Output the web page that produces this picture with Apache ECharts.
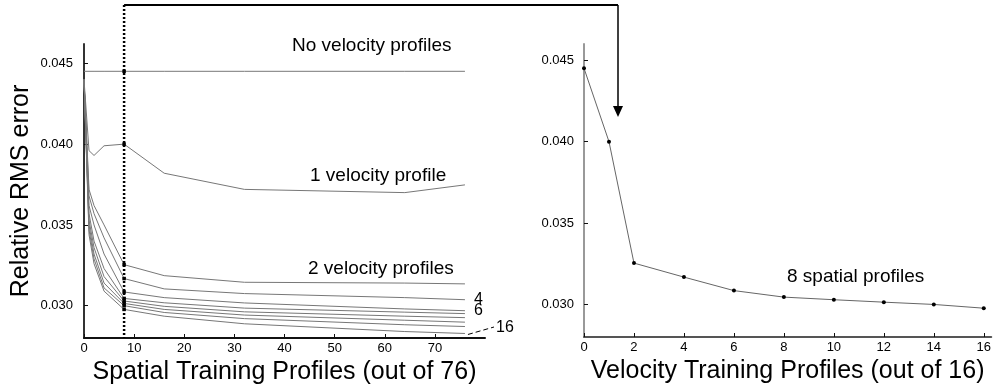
<!DOCTYPE html>
<html><head><meta charset="utf-8">
<script src="https://cdn.jsdelivr.net/npm/echarts@6/dist/echarts.min.js"></script>
<style>html,body{margin:0;padding:0;background:#fff}#c{width:994px;height:390px}</style>
</head><body><div id="c"></div><script>
// Left chart: x positions (spatial training profiles)
const spatialX = [0, 1, 2, 4, 8, 16, 32, 64, 76];
const vel0  = [0.04451, 0.04451, 0.04451, 0.04451, 0.04451, 0.04451, 0.04451, 0.04451, 0.04451];
const vel1  = [0.0440, 0.0396, 0.0393, 0.0399, 0.0400, 0.0382, 0.0372, 0.0370, 0.03748];
const vel2  = [0.0440, 0.0372, 0.0362, 0.0350, 0.03254, 0.03186, 0.03145, 0.0314, 0.03135];
const vel4  = [0.0440, 0.0368, 0.0357, 0.0342, 0.03168, 0.03104, 0.03075, 0.0305, 0.03037];
const vel6  = [0.0440, 0.0362, 0.0350, 0.0332, 0.03085, 0.0305, 0.03017, 0.0298, 0.02969];
const vel8  = [0.0440, 0.0357, 0.0340, 0.0323, 0.03045, 0.03018, 0.02985, 0.0296, 0.02951];
const vel10 = [0.0440, 0.0353, 0.0336, 0.0318, 0.03029, 0.02996, 0.02962, 0.02935, 0.02926];
const vel12 = [0.0440, 0.0350, 0.0332, 0.0314, 0.03014, 0.02977, 0.02942, 0.0291, 0.02898];
const vel14 = [0.0440, 0.0347, 0.0329, 0.0311, 0.0300, 0.02958, 0.0292, 0.02882, 0.02871];
const vel16 = [0.0440, 0.0344, 0.0326, 0.0309, 0.02977, 0.02935, 0.02888, 0.0284, 0.02828];
// Right chart
const velX   = [0, 1, 2, 4, 6, 8, 10, 12, 14, 16];
const velErr = [0.04451, 0.0400, 0.03254, 0.03168, 0.03085, 0.03045, 0.03029, 0.03014, 0.0300, 0.02977];
// Tick labels
const leftXTicks  = [0, 10, 20, 30, 40, 50, 60, 70];
const rightXTicks = [0, 2, 4, 6, 8, 10, 12, 14, 16];
const yTicks      = [0.030, 0.035, 0.040, 0.045];

const FONT = "'Liberation Sans', Arial, sans-serif";
const chart = echarts.init(document.getElementById('c'), null, {renderer: 'canvas'});

function leftSeries(arr, extra) {
  return Object.assign({
    type: 'line', xAxisIndex: 0, yAxisIndex: 0,
    data: spatialX.map((x, i) => [x, arr[i]]),
    symbol: 'rect', showSymbol: true,
    symbolSize: v => (v[0] === 8 ? 3.5 : 0),
    itemStyle: {color: '#000'},
    lineStyle: {color: '#777', width: 1},
    silent: true, z: 3
  }, extra || {});
}
function endLbl(t) {
  return {endLabel: {show: true, formatter: t, fontSize: 16, color: '#000', fontFamily: FONT, distance: 9}};
}

const xCommon = (name, ticks, color) => ({
  type: 'value',
  axisLine: {show: true, onZero: false, lineStyle: {color: color, width: 2}},
  axisTick: {show: true, inside: true, length: 4, customValues: ticks, lineStyle: {color: '#111'}},
  axisLabel: {customValues: ticks, fontSize: 13, color: '#000', fontFamily: FONT, margin: 4},
  splitLine: {show: false},
  name: name, nameLocation: 'middle', nameGap: 20,
  nameTextStyle: {fontSize: 25, color: '#000', fontFamily: FONT}
});
const yCommon = (color, margin) => ({
  type: 'value', min: 0.028,
  axisLine: {show: true, onZero: false, lineStyle: {color: color, width: 2}},
  axisTick: {show: true, inside: true, length: 4, customValues: yTicks, lineStyle: {color: '#111'}},
  axisLabel: {customValues: yTicks, fontSize: 13, color: '#000', fontFamily: FONT, margin: margin,
              formatter: v => v.toFixed(3)},
  splitLine: {show: false}
});

chart.setOption({
  animation: false,
  backgroundColor: '#fff',
  grid: [
    {left: 84, top: 44, width: 401, height: 294},
    {left: 584, top: 44, width: 408, height: 293}
  ],
  xAxis: [
    Object.assign(xCommon('Spatial Training Profiles (out of 76)', leftXTicks, '#111'), {gridIndex: 0, min: 0, max: 80}),
    Object.assign(xCommon('Velocity Training Profiles (out of 16)', rightXTicks, '#555'), {gridIndex: 1, min: 0, max: 16.3})
  ],
  yAxis: [
    Object.assign(yCommon('#333', 11), {gridIndex: 0, max: 0.0462, name: 'Relative RMS error',
      nameLocation: 'middle', nameGap: 50, nameTextStyle: {fontSize: 25, color: '#000', fontFamily: FONT}}),
    Object.assign(yCommon('#999', 10), {gridIndex: 1, max: 0.046})
  ],
  series: [
    leftSeries(vel0), leftSeries(vel1), leftSeries(vel2),
    leftSeries(vel4, endLbl('4')), leftSeries(vel6, endLbl('6')),
    leftSeries(vel8), leftSeries(vel10), leftSeries(vel12), leftSeries(vel14), leftSeries(vel16),
    {
      type: 'line', xAxisIndex: 1, yAxisIndex: 1,
      data: velX.map((x, i) => [x, velErr[i]]),
      symbol: 'circle', symbolSize: 4, showSymbol: true,
      itemStyle: {color: '#000'}, lineStyle: {color: '#666', width: 1}, silent: true
    }
  ]
});

// Annotations
const p8top = chart.convertToPixel({gridIndex: 0}, [8, 0.028]);
const x8 = p8top[0], yBot = p8top[1];
const end16 = chart.convertToPixel({gridIndex: 0}, [76, vel16[8]]);
const arrowX = 618;
const txt = (t, x, y, size) => ({type: 'text', x: x, y: y, z: 10,
  style: {text: t, fill: '#000', font: size + 'px ' + FONT, verticalAlign: 'middle', align: 'left'}});

chart.setOption({
  graphic: [
    {type: 'line', z: 5, shape: {x1: x8, y1: 5, x2: x8, y2: yBot},
      style: {stroke: '#000', lineWidth: 2.5, lineDash: [2, 2]}},
    {type: 'line', z: 5, shape: {x1: x8, y1: 5, x2: arrowX, y2: 5},
      style: {stroke: '#000', lineWidth: 2}},
    {type: 'line', z: 5, shape: {x1: arrowX, y1: 5, x2: arrowX, y2: 107},
      style: {stroke: '#000', lineWidth: 1.5}},
    {type: 'polygon', z: 5, shape: {points: [[arrowX - 5, 106], [arrowX + 5, 106], [arrowX, 117]]},
      style: {fill: '#000'}},
    {type: 'line', z: 5, shape: {x1: end16[0] + 3, y1: end16[1] + 1, x2: 494, y2: 327},
      style: {stroke: '#000', lineWidth: 1, lineDash: [5, 3]}},
    txt('16', 496, 328, 16),
    txt('No velocity profiles', 292, 46, 19),
    txt('1 velocity profile', 310, 176, 19),
    txt('2 velocity profiles', 308, 269, 19),
    txt('8 spatial profiles', 787, 277, 19)
  ]
});
</script></body></html>
